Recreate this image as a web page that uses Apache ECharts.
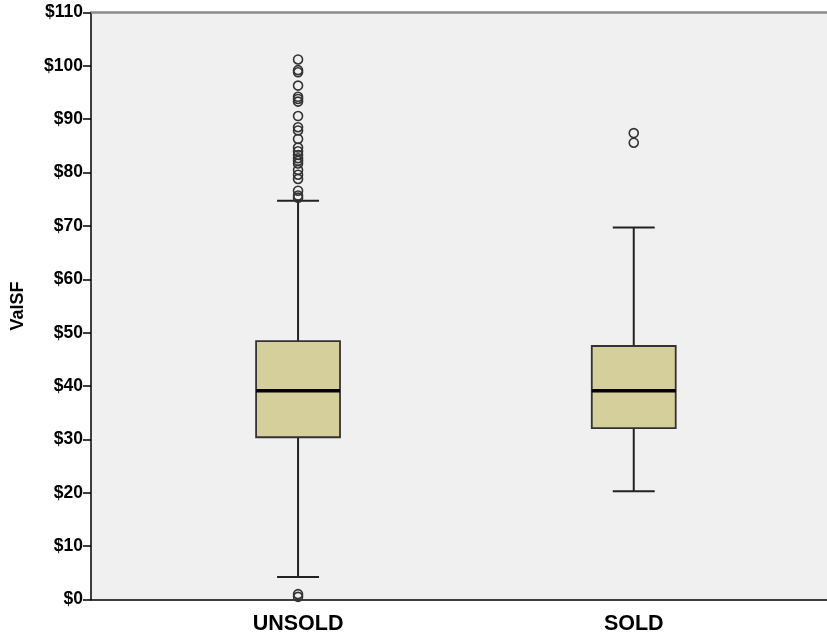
<!DOCTYPE html>
<html>
<head>
<meta charset="utf-8">
<script src="https://cdn.jsdelivr.net/npm/echarts@6/dist/echarts.min.js"></script>
<style>
  html, body { margin: 0; padding: 0; background: #ffffff; }
  #chart { width: 827px; height: 638px; }
</style>
</head>
<body>
<div id="chart"></div>
<script>
// Groups on the horizontal axis
const categories = ['UNSOLD', 'SOLD'];

// Five-number summaries per group: [lower whisker, Q1, median, Q3, upper whisker]
const lowerWhisker = [4.2, 20.3];
const q1Values     = [30.4, 32.1];
const medianValues = [39.1, 39.1];
const q3Values     = [48.4, 47.5];
const upperWhisker = [74.7, 69.7];

// Outlying observations per group
const unsoldOutliers = [101.2, 99.2, 98.8, 96.3, 94.2, 93.8, 93.3, 90.6, 88.5, 87.9, 86.3,
                        84.7, 84.0, 83.3, 82.7, 82.2, 81.7, 80.5, 79.6, 78.8, 76.6, 75.7, 75.3,
                        1.0, 0.5];
const soldOutliers = [87.4, 85.6];

// Value axis ticks
const yMin = 0, yMax = 110, yStep = 10;

const FONT = '"Liberation Sans", Arial, sans-serif';

const boxData = categories.map((c, i) =>
  [i, lowerWhisker[i], q1Values[i], medianValues[i], q3Values[i], upperWhisker[i]]);

const outlierData = []
  .concat(unsoldOutliers.map(v => [categories[0], v]))
  .concat(soldOutliers.map(v => [categories[1], v]));

function renderBox(params, api) {
  const idx = api.value(0);
  const band = api.size([1, 0])[0];
  const half = band * 0.125;
  const capHalf = band * 0.0625;
  const pLow = api.coord([idx, api.value(1)]);
  const pQ1 = api.coord([idx, api.value(2)]);
  const pMed = api.coord([idx, api.value(3)]);
  const pQ3 = api.coord([idx, api.value(4)]);
  const pHigh = api.coord([idx, api.value(5)]);
  const x = pQ1[0];
  const lineStyle = { stroke: '#222222', lineWidth: 2 };
  return {
    type: 'group',
    children: [
      { type: 'line', shape: { x1: x, y1: pQ3[1], x2: x, y2: pHigh[1] }, style: lineStyle },
      { type: 'line', shape: { x1: x, y1: pQ1[1], x2: x, y2: pLow[1] }, style: lineStyle },
      { type: 'line', shape: { x1: x - capHalf, y1: pHigh[1], x2: x + capHalf, y2: pHigh[1] }, style: lineStyle },
      { type: 'line', shape: { x1: x - capHalf, y1: pLow[1], x2: x + capHalf, y2: pLow[1] }, style: lineStyle },
      {
        type: 'rect',
        shape: { x: x - half, y: pQ3[1], width: half * 2, height: pQ1[1] - pQ3[1] },
        style: { fill: '#d5cf9b', stroke: '#333333', lineWidth: 1.8 }
      },
      { type: 'line', shape: { x1: x - half, y1: pMed[1], x2: x + half, y2: pMed[1] },
        style: { stroke: '#000000', lineWidth: 3.5 } }
    ]
  };
}

const chart = echarts.init(document.getElementById('chart'), null, { renderer: 'canvas' });

const gridTop = 12.5, gridBottom = 38.5;

chart.setOption({
  animation: false,
  backgroundColor: '#ffffff',
  grid: [
    // plotting frame with the value axis
    { left: 91, right: 0, top: gridTop, bottom: gridBottom, show: true,
      backgroundColor: '#f0f0f0', borderWidth: 0 },
    // group positions
    { left: 130.2, width: 671.4, top: gridTop, bottom: gridBottom }
  ],
  xAxis: [
    { gridIndex: 0, type: 'value', min: 0, max: 1, position: 'bottom',
      axisLine: { show: true, lineStyle: { color: '#000000', width: 1.5 } },
      axisTick: { show: false }, axisLabel: { show: false }, splitLine: { show: false } },
    { gridIndex: 0, type: 'value', min: 0, max: 1, position: 'top',
      axisLine: { show: true, lineStyle: { color: '#8c8c8c', width: 2.5 } },
      axisTick: { show: false }, axisLabel: { show: false }, splitLine: { show: false } },
    { gridIndex: 1, type: 'category', data: categories, boundaryGap: true,
      axisLine: { show: false }, axisTick: { show: false }, splitLine: { show: false },
      axisLabel: { margin: 14, color: '#000000', fontFamily: FONT, fontWeight: 'bold', fontSize: 21.5 } }
  ],
  yAxis: [
    { gridIndex: 0, type: 'value', min: yMin, max: yMax, interval: yStep,
      name: 'ValSF', nameLocation: 'middle', nameRotate: 90, nameGap: 64,
      nameTextStyle: { color: '#000000', fontFamily: FONT, fontWeight: 'bold', fontSize: 18 },
      axisLine: { show: true, lineStyle: { color: '#000000', width: 1.5 } },
      axisTick: { show: true, inside: false, length: 8, lineStyle: { color: '#000000', width: 1.5 } },
      axisLabel: { margin: 8, color: '#000000', fontFamily: FONT, fontWeight: 'bold', fontSize: 17.5,
                   formatter: v => '$' + v },
      splitLine: { show: false } },
    { gridIndex: 1, type: 'value', min: yMin, max: yMax, show: false }
  ],
  series: [
    {
      type: 'custom',
      xAxisIndex: 2, yAxisIndex: 1,
      renderItem: renderBox,
      encode: { x: 0, y: [1, 2, 3, 4, 5] },
      data: boxData,
      z: 2
    },
    {
      type: 'scatter',
      xAxisIndex: 2, yAxisIndex: 1,
      symbol: 'circle', symbolSize: 9,
      itemStyle: { color: 'rgba(0,0,0,0)', borderColor: '#333333', borderWidth: 1.6, opacity: 1 },
      data: outlierData,
      z: 3
    }
  ]
});
</script>
</body>
</html>
